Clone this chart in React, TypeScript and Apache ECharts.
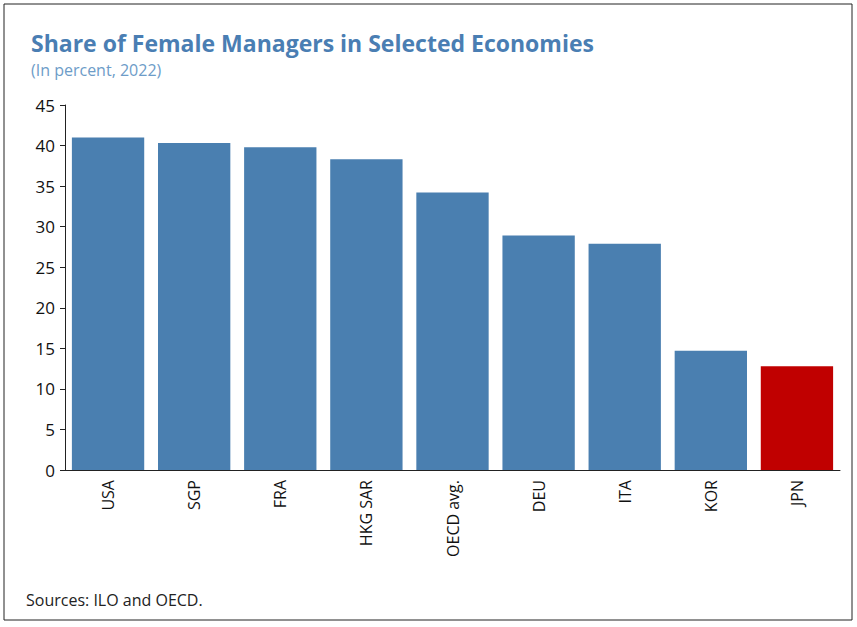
import React, { useEffect, useRef } from "react";
import * as echarts from "echarts";

const categories = ["USA", "SGP", "FRA", "HKG SAR", "OECD avg.", "DEU", "ITA", "KOR", "JPN"];
const values = [41.0, 40.3, 39.8, 38.3, 34.2, 28.9, 27.9, 14.7, 12.8];
const highlight = "JPN";

export default function App() {
  const ref = useRef<HTMLDivElement>(null);
  useEffect(() => {
    const chart = echarts.init(ref.current!, null, { renderer: "svg" });
    const font = "'Open Sans', 'Noto Sans', sans-serif";
    chart.setOption({
      animation: false,
      backgroundColor: "#fff",
      title: {
        text: "Share of Female Managers in Selected Economies",
        subtext: "(In percent, 2022)",
        left: 26,
        top: 26,
        itemGap: 8,
        textStyle: { color: "#4a7eb3", fontSize: 23, fontWeight: "bold", fontFamily: font },
        subtextStyle: { color: "#6d9cc8", fontSize: 16, fontFamily: font },
      },
      graphic: [
        { type: "rect", shape: { x: 4, y: 4, width: 848, height: 616 }, style: { fill: "none", stroke: "#222", lineWidth: 1 } },
        { type: "text", left: 26, top: 592, style: { text: "Sources: ILO and OECD.", fontSize: 16, fill: "#222", fontFamily: font } },
      ],
      grid: { left: 65, right: 17, top: 105, bottom: 157 },
      xAxis: {
        type: "category",
        data: categories,
        axisLine: { lineStyle: { color: "#222" } },
        axisTick: { show: false },
        axisLabel: { rotate: 90, fontSize: 16, color: "#111", fontFamily: font, margin: 10 },
      },
      yAxis: {
        type: "value",
        min: 0,
        max: 45,
        interval: 5,
        splitLine: { show: false },
        axisLine: { show: true, lineStyle: { color: "#222" } },
        axisTick: { show: true, length: 5, lineStyle: { color: "#222" } },
        axisLabel: { fontSize: 17, color: "#111", fontFamily: font, margin: 10 },
      },
      series: [
        {
          type: "bar",
          barCategoryGap: "16%",
          data: values.map((v, i) => ({
            value: v,
            itemStyle: { color: categories[i] === highlight ? "#c00000" : "#4a7fb0" },
          })),
        },
      ],
    });
    return () => chart.dispose();
  }, []);
  return <div ref={ref} style={{ position: "absolute", left: 0, top: 0, width: 857, height: 627 }} />;
}
